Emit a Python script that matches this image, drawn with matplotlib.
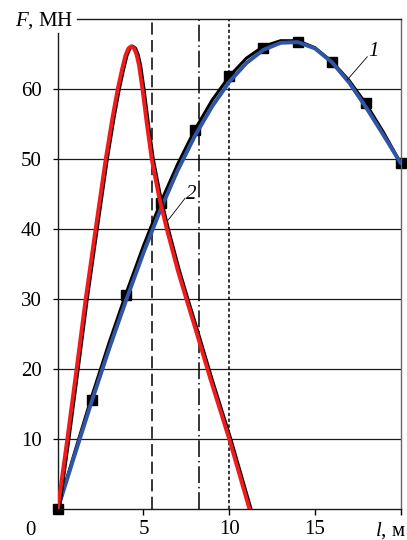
import numpy as np
from matplotlib import pyplot as plt, transforms as mtr

plt.rcParams["font.family"] = ["Liberation Serif", "DejaVu Serif"]
plt.rcParams["mathtext.fontset"] = "custom"
plt.rcParams["mathtext.it"] = "Liberation Serif:italic"
plt.rcParams["mathtext.rm"] = "Liberation Serif"

# measured points (squares)
pts_x = [0, 2, 4, 6, 8, 10, 12, 14, 16, 18, 20]
pts_y = [0, 15.6, 30.6, 43.7, 54.1, 61.9, 65.8, 66.7, 63.8, 58.0, 49.4]

# curve 1: black fit and blue model
c1_x = list(range(21))
c1_black = [0, 8.2, 16.2, 23.8, 30.9, 37.6, 43.8, 49.3, 54.2, 58.4, 61.8,
            64.4, 66.1, 66.9, 66.9, 65.9, 63.9, 61.2, 57.8, 53.8, 49.4]
c1_blue = [0, 7.8, 15.5, 22.9, 29.9, 36.6, 42.8, 48.4, 53.3, 57.5, 61.0,
           63.7, 65.6, 66.6, 66.7, 65.8, 63.8, 60.9, 57.3, 53.4, 49.4]

# curve 2 (red)
c2_x = [0, 0.56, 1.1, 1.63, 1.88, 2.21, 2.8, 3.2, 3.5, 3.75, 3.95, 4.12, 4.28,
        4.45, 4.6, 4.74, 4.94, 5.2, 5.48, 5.9, 6.36, 7.0, 7.5, 8.0, 8.9, 10.0, 11.18]
c2_y = [0, 10, 20, 30, 34.3, 40, 50, 56, 60, 62.8, 64.8, 65.8, 66.1,
        65.8, 64.9, 63.4, 60, 55, 50, 44.7, 40, 34.1, 30.0, 26.0, 18.6, 10.0, 0]

# vertical marker lines
vlines_x = [5.5, 8.26, 10.0]
vlines_ls = [(0, (8, 3.5)), (0, (11, 2.5, 1, 2.5)), (0, (2.2, 1.6))]

xticks = [5, 10, 15, 20]
xtick_labels = ["5", "10", "15", ""]
yticks = [10, 20, 30, 40, 50, 60]

fs = 15

fig = plt.figure(figsize=(4.07, 5.40), dpi=100)
ax = fig.add_axes([0.1418, 0.0574, 0.8427, 0.9074])
ax.set_xlim(0, 20)
ax.set_ylim(0, 70)

for y in yticks:
    ax.axhline(y, color="#1a1a1a", lw=0.9, zorder=1)

for xv, ls in zip(vlines_x, vlines_ls):
    ax.axvline(xv, color="black", lw=1.1, linestyle=ls, zorder=1.5)

ax.plot(pts_x, pts_y, "s", color="black", ms=6.5, zorder=2, clip_on=False)
ax.plot(c1_x, c1_black, color="black", lw=2.2, zorder=3, solid_capstyle="round")
ax.plot(c1_x, c1_blue, color="#2f55a4", lw=2.8, zorder=4, solid_capstyle="round")

shift = mtr.offset_copy(ax.transData, fig=fig, x=1.3, y=0, units="dots")
ax.plot(c2_x, c2_y, color="black", lw=2.6, zorder=4.5, transform=shift)
ax.plot(c2_x, c2_y, color="#ee1c1c", lw=2.8, zorder=5, solid_joinstyle="round")

# curve labels with leader lines
ax.plot([18.05, 16.88], [64.6, 61.3], color="black", lw=0.6, zorder=6)
ax.text(18.4, 65.4, "1", style="italic", fontsize=fs, ha="center", va="center")
ax.plot([7.43, 6.45], [44.4, 41.3], color="black", lw=0.6, zorder=6)
ax.text(7.8, 44.9, "2", style="italic", fontsize=fs, ha="center", va="center")

ax.spines["left"].set_bounds(0, 68)
ax.spines["top"].set_bounds(1.13, 20)
for s in ax.spines.values():
    s.set_linewidth(1.0)
    s.set_color("#1a1a1a")
ax.spines["right"].set_color("#666666")

ax.set_xticks(xticks)
ax.set_xticklabels(xtick_labels)
ax.set_yticks(yticks)
ax.tick_params(axis="x", direction="out", length=4, width=1.0, pad=4, labelsize=fs)
ax.tick_params(axis="y", direction="out", length=3.6, width=0.9, pad=8, labelsize=fs)

ax.text(-1.6, -3.75, "0", fontsize=fs, ha="center", va="baseline", clip_on=False)
ax.text(20.3, -3.75, r"$l$, м", fontsize=fs, ha="right", va="baseline", clip_on=False)
ax.text(0.9, 69.8, r"$F$, МН", fontsize=fs, ha="right", va="center", clip_on=False)

fig.savefig("out.png", dpi=100)
